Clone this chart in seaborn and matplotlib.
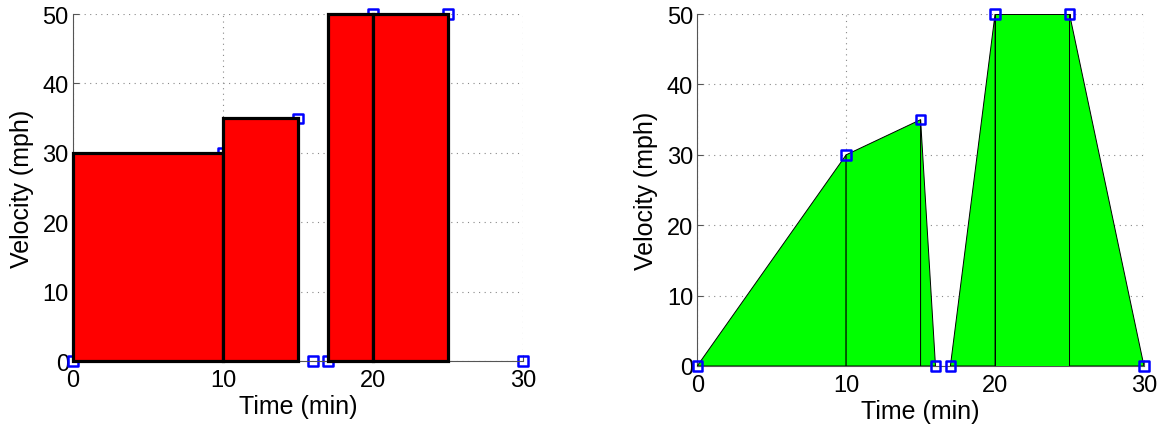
import numpy as np
import pandas as pd
import seaborn as sns
import matplotlib.pyplot as plt

time_min = [0, 10, 15, 16, 17, 20, 25, 30]
velocity = [0, 30, 35, 0, 0, 50, 50, 0]

df = pd.DataFrame({'t': time_min, 'v': velocity})

sns.set_style('ticks')
plt.rcParams['font.family'] = ['Liberation Sans', 'DejaVu Sans']
plt.rcParams['text.color'] = 'black'
plt.rcParams['axes.labelcolor'] = 'black'
tick_fs = 17
label_fs = 18

fig = plt.figure(figsize=(11.62, 4.31), dpi=100)
ax1 = fig.add_axes([0.0628, 0.160, 0.3872, 0.805])
ax2 = fig.add_axes([0.600, 0.1485, 0.3845, 0.8165])

# left: right-endpoint rectangles, markers sit underneath
sns.scatterplot(x='t', y='v', data=df, marker='s', s=45, facecolor='none',
                edgecolor='#0000ff', linewidth=1.8, ax=ax1, zorder=2, clip_on=False)
for i in range(len(time_min) - 1):
    h = velocity[i + 1]
    if h == 0:
        continue
    ax1.bar(time_min[i], h, width=time_min[i + 1] - time_min[i], align='edge',
            color='#ff0000', edgecolor='black', linewidth=2.3, zorder=3, clip_on=False)

# right: trapezoids
for i in range(len(time_min) - 1):
    xs = [time_min[i], time_min[i], time_min[i + 1], time_min[i + 1]]
    ys = [0, velocity[i], velocity[i + 1], 0]
    if max(ys) == 0:
        continue
    ax2.fill(xs, ys, facecolor='#00ff00', edgecolor='black', linewidth=0.7, zorder=3)
sns.scatterplot(x='t', y='v', data=df, marker='s', s=45, facecolor='none',
                edgecolor='#0000ff', linewidth=1.8, ax=ax2, zorder=4, clip_on=False)

for ax in (ax1, ax2):
    ax.set_xlim(0, 30)
    ax.set_ylim(0, 50)
    ax.set_xticks([0, 10, 20, 30])
    ax.set_yticks([0, 10, 20, 30, 40, 50])
    ax.grid(True, linestyle=(0, (1, 4)), color='#888888', linewidth=0.8)
    ax.set_axisbelow(True)
    for s in ('top', 'right'):
        ax.spines[s].set_visible(False)
    for s in ('left', 'bottom'):
        ax.spines[s].set_color('#555555')
        ax.spines[s].set_linewidth(0.8)
    ax.tick_params(direction='in', length=4, labelsize=tick_fs, colors='#555555',
                   labelcolor='black')
    ax.tick_params(axis='x', pad=6)
    ax.tick_params(axis='y', pad=3)
    ax.set_xlabel('Time (min)', fontsize=label_fs, labelpad=2)
    ax.set_ylabel('Velocity (mph)', fontsize=label_fs, labelpad=6)

fig.savefig('out.png', dpi=100)
